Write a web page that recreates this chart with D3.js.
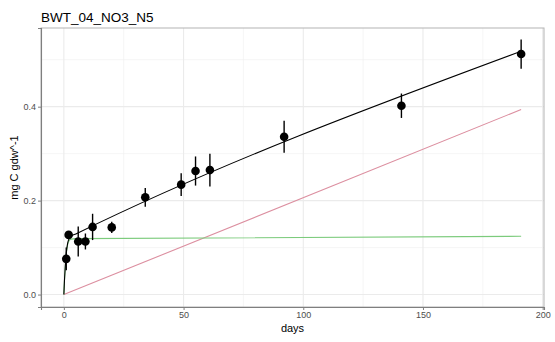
<!DOCTYPE html>
<html>
<head>
<meta charset="utf-8">
<script src="https://cdn.jsdelivr.net/npm/d3@7"></script>
<style>
  body { margin: 0; background: #fff; }
  svg { display: block; font-family: "Liberation Sans", Arial, sans-serif; }
</style>
</head>
<body>
<svg id="chart" width="555" height="342"></svg>
<script>
// observed points: day, mean, error half-width
const days = [1, 2, 6, 9, 12, 20, 34, 49, 55, 61, 92, 141, 191];
const means = [0.076, 0.127, 0.113, 0.113, 0.144, 0.143, 0.207, 0.234, 0.263, 0.265, 0.336, 0.402, 0.512];
const errs = [0.024, 0.006, 0.032, 0.017, 0.028, 0.012, 0.020, 0.024, 0.031, 0.035, 0.034, 0.026, 0.031];

// fitted curves
const fitDays = [0, 0.25, 0.5, 0.75, 1, 1.5, 2, 3, 5, 191];
const fitTotal = [0, 0.030, 0.052, 0.072, 0.088, 0.107, 0.117, 0.124, 0.129, 0.518];
const fitFast = [0, 0.029, 0.051, 0.070, 0.086, 0.104, 0.113, 0.118, 0.119, 0.124];
const slowDays = [0, 191];
const fitSlow = [0, 0.394];

const xTicks = [0, 50, 100, 150, 200];
const xMinor = [25, 75, 125, 175];
const yTicks = [0, 0.2, 0.4];
const yMinor = [0.1, 0.3, 0.5];

const margin = { top: 28, right: 11, bottom: 35, left: 41 };
const width = 555, height = 342;
const chartWidth = width - margin.left - margin.right;
const chartHeight = height - margin.top - margin.bottom;

const svg = d3.select("#chart");
const chart = svg.append("g")
  .attr("transform", `translate(${margin.left},${margin.top})`);

const x = d3.scaleLinear().domain([-9.55, 200.55]).range([0, chartWidth]);
const y = d3.scaleLinear().domain([-0.0265, 0.5675]).range([chartHeight, 0]);

// grid
chart.append("g").selectAll("line.xminor").data(xMinor).join("line")
  .attr("x1", d => x(d)).attr("x2", d => x(d))
  .attr("y1", 0).attr("y2", chartHeight)
  .attr("stroke", "#f0f0f0").attr("stroke-width", 0.6);
chart.append("g").selectAll("line.yminor").data(yMinor).join("line")
  .attr("y1", d => y(d)).attr("y2", d => y(d))
  .attr("x1", 0).attr("x2", chartWidth)
  .attr("stroke", "#f0f0f0").attr("stroke-width", 0.6);
chart.append("g").selectAll("line.xmajor").data(xTicks).join("line")
  .attr("x1", d => x(d)).attr("x2", d => x(d))
  .attr("y1", 0).attr("y2", chartHeight)
  .attr("stroke", "#ebebeb").attr("stroke-width", 1.1);
chart.append("g").selectAll("line.ymajor").data(yTicks).join("line")
  .attr("y1", d => y(d)).attr("y2", d => y(d))
  .attr("x1", 0).attr("x2", chartWidth)
  .attr("stroke", "#ebebeb").attr("stroke-width", 1.1);

// fitted lines
const line = d3.line().x(d => x(d[0])).y(d => y(d[1]));
chart.append("path")
  .datum(slowDays.map((d, i) => [d, fitSlow[i]]))
  .attr("d", line).attr("fill", "none")
  .attr("stroke", "#dc8fa0").attr("stroke-width", 1.1);
chart.append("path")
  .datum(fitDays.map((d, i) => [d, fitFast[i]]))
  .attr("d", line.curve(d3.curveMonotoneX)).attr("fill", "none")
  .attr("stroke", "#7ccb7c").attr("stroke-width", 1.1);
chart.append("path")
  .datum(fitDays.map((d, i) => [d, fitTotal[i]]))
  .attr("d", line.curve(d3.curveMonotoneX)).attr("fill", "none")
  .attr("stroke", "#000").attr("stroke-width", 1.1);

// error bars and points
const obs = days.map((d, i) => ({ day: d, mean: means[i], err: errs[i] }));
chart.append("g").selectAll("line").data(obs).join("line")
  .attr("x1", d => x(d.day)).attr("x2", d => x(d.day))
  .attr("y1", d => y(d.mean - d.err)).attr("y2", d => y(d.mean + d.err))
  .attr("stroke", "#000").attr("stroke-width", 1.4);
chart.append("g").selectAll("circle").data(obs).join("circle")
  .attr("cx", d => x(d.day)).attr("cy", d => y(d.mean))
  .attr("r", 4.3).attr("fill", "#000");

// panel border
chart.append("rect")
  .attr("width", chartWidth).attr("height", chartHeight)
  .attr("fill", "none").attr("stroke", "#b3b3b3").attr("stroke-width", 1);

// axes
const xAxisG = chart.append("g")
  .attr("transform", `translate(0,${chartHeight})`)
  .call(d3.axisBottom(x).tickValues(xTicks).tickFormat(d3.format("d")).tickSize(3).tickPadding(2));
const yAxisG = chart.append("g")
  .call(d3.axisLeft(y).tickValues(yTicks).tickFormat(d3.format(".1f")).tickSize(3).tickPadding(2));
[xAxisG, yAxisG].forEach(g => {
  g.select(".domain").attr("stroke", "#7f7f7f").attr("stroke-width", 1.1);
  g.selectAll(".tick line").attr("stroke", "#7f7f7f");
  g.selectAll(".tick text")
    .attr("fill", "#4d4d4d")
    .style("font-size", "9px")
    .style("font-family", "Liberation Sans, Arial, sans-serif");
});

// titles
svg.append("text")
  .attr("x", margin.left).attr("y", 22)
  .attr("font-size", 13.5).attr("fill", "#000")
  .text("BWT_04_NO3_N5");
svg.append("text")
  .attr("x", margin.left + chartWidth / 2).attr("y", 332)
  .attr("text-anchor", "middle").attr("font-size", 11)
  .text("days");
svg.append("text")
  .attr("transform", `translate(18,${margin.top + chartHeight / 2}) rotate(-90)`)
  .attr("text-anchor", "middle").attr("font-size", 11)
  .text("mg C gdw^-1");
</script>
</body>
</html>
